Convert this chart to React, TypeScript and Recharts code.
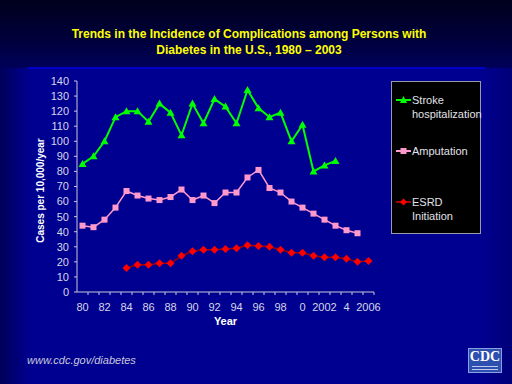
import React from 'react';
import { LineChart, Line, XAxis, YAxis } from 'recharts';

const years = [1980, 1981, 1982, 1983, 1984, 1985, 1986, 1987, 1988, 1989, 1990, 1991, 1992, 1993, 1994, 1995, 1996, 1997, 1998, 1999, 2000, 2001, 2002, 2003, 2004, 2005, 2006];
const yearLabels = ['80', '', '82', '', '84', '', '86', '', '88', '', '90', '', '92', '', '94', '', '96', '', '98', '', '0', '', '2002', '', '4', '', '2006'];

const strokeHosp = [85, 90, 100, 116, 120, 120, 113, 125, 119, 104, 125, 112, 128, 123, 112, 134, 122, 116, 119, 100, 111, 80, 84, 87, null, null, null];
const amputation = [44, 43, 48, 56, 67, 64, 62, 61, 63, 68, 61, 64, 59, 66, 66, 76, 81, 69, 66, 60, 56, 52, 48, 44, 41, 39, null];
const esrd = [null, null, null, null, 16, 18, 18, 19, 19, 24, 27, 28, 28, 28.5, 29, 31, 30.5, 30, 28, 26, 26, 24, 23, 23, 22, 20, 20.5];

const yTicks = [0, 10, 20, 30, 40, 50, 60, 70, 80, 90, 100, 110, 120, 130, 140];

const chartData = years.map((year, i) => ({
  year,
  stroke: strokeHosp[i],
  amputation: amputation[i],
  esrd: esrd[i],
}));

const FONT = '"Liberation Sans", Arial, sans-serif';
const TICK_COLOR = '#d6d6e6';

// marker shapes
const Triangle = (props: any) => {
  const { cx, cy, index } = props;
  if (cx == null || cy == null || props.value == null) return <g key={index} />;
  return <polygon key={index} points={`${cx},${cy - 4} ${cx - 4},${cy + 3} ${cx + 4},${cy + 3}`} fill="#00ff00" />;
};

const Square = (props: any) => {
  const { cx, cy, index } = props;
  if (cx == null || cy == null || props.value == null) return <g key={index} />;
  return <rect key={index} x={cx - 3} y={cy - 3} width={6} height={6} fill="#ff99cc" />;
};

const RedDot = (props: any) => {
  const { cx, cy, index } = props;
  if (cx == null || cy == null || props.value == null) return <g key={index} />;
  return <polygon key={index} points={`${cx},${cy - 4} ${cx + 4},${cy} ${cx},${cy + 4} ${cx - 4},${cy}`} fill="#ff0000" />;
};

const YearTick = (props: any) => {
  const { x, y, payload } = props;
  const idx = years.indexOf(payload.value);
  const label = yearLabels[idx];
  return (
    <g>
      <line x1={x + 5.5} y1={y} x2={x + 5.5} y2={y + 3} stroke="#c8c8d8" strokeWidth={1} />
      {label ? (
        <text x={x} y={y + 19} textAnchor="middle" fill={TICK_COLOR} fontSize={11} fontFamily={FONT}>
          {label}
        </text>
      ) : null}
    </g>
  );
};

// rotated y-axis title, centred a little below the middle of the plot
const YTitle = (props: any) => {
  const vb = props.viewBox || {};
  const cx = vb.x + 3;
  const cy = vb.y + vb.height / 2 + 4;
  return (
    <text
      x={cx}
      y={cy}
      transform={`rotate(-90, ${cx}, ${cy})`}
      textAnchor="middle"
      dominantBaseline="central"
      fill="#ffffff"
      fontSize={10}
      fontWeight="bold"
      fontFamily={FONT}
    >
      Cases per 10,000/year
    </text>
  );
};

const legendItems = [
  { lines: ['Stroke', 'hospitalization'], color: '#00ff00', line: '#00ff00', top: 11, shape: 'tri' },
  { lines: ['Amputation'], color: '#ff99cc', line: '#ff99cc', top: 62, shape: 'sq' },
  { lines: ['ESRD', 'Initiation'], color: '#ff0000', line: '#a00000', top: 113, shape: 'dot' },
];

const App: React.FC = () => {
  return (
    <div
      style={{
        position: 'absolute',
        left: 0,
        top: 0,
        width: 512,
        height: 384,
        overflow: 'hidden',
        background: 'linear-gradient(to bottom, #00001c 0px, #00003c 40px, #000058 67px)',
        fontFamily: FONT,
      }}
    >
      <div
        style={{
          position: 'absolute',
          left: 0,
          top: 68,
          width: 512,
          height: 316,
          background: 'linear-gradient(to right, #00005a 0px, #000090 30px, #000090 480px, #000078 512px)',
        }}
      />
      <div style={{ position: 'absolute', left: 28, top: 67, width: 457, height: 2, background: '#0000c8' }} />

      <div
        style={{
          position: 'absolute',
          left: 0,
          top: 26,
          width: 498,
          textAlign: 'center',
          color: '#ffff00',
          fontWeight: 'bold',
          fontSize: 12,
          lineHeight: '16px',
        }}
      >
        Trends in the Incidence of Complications among Persons with
        <br />
        Diabetes in the U.S., 1980 – 2003
      </div>

      <div style={{ position: 'absolute', left: 0, top: 0 }}>
        <LineChart width={512} height={384} data={chartData} margin={{ top: 81, right: 138, bottom: 58, left: 37 }}>
          <XAxis
            dataKey="year"
            type="number"
            domain={[1979.5, 2006.5]}
            ticks={years}
            interval={0}
            height={34}
            tickSize={0}
            tickMargin={0}
            tickLine={false}
            tick={<YearTick />}
            axisLine={{ stroke: '#c8c8d8' }}
            label={{ value: 'Year', position: 'insideBottom', offset: 1, fill: '#ffffff', fontSize: 11, fontWeight: 'bold', fontFamily: FONT }}
          />
          <YAxis
            type="number"
            domain={[0, 140]}
            ticks={yTicks}
            interval={0}
            width={40}
            tickSize={3}
            tickMargin={5}
            axisLine={{ stroke: '#c8c8d8' }}
            tickLine={{ stroke: '#c8c8d8' }}
            tick={{ fill: TICK_COLOR, fontSize: 11, fontFamily: FONT }}
            label={{ content: <YTitle /> }}
          />
          <Line dataKey="stroke" stroke="#00ff00" strokeWidth={2} dot={<Triangle />} activeDot={false} isAnimationActive={false} connectNulls={false} />
          <Line dataKey="amputation" stroke="#ff99cc" strokeWidth={1.5} dot={<Square />} activeDot={false} isAnimationActive={false} connectNulls={false} />
          <Line dataKey="esrd" stroke="#a00000" strokeWidth={1.5} dot={<RedDot />} activeDot={false} isAnimationActive={false} connectNulls={false} />
        </LineChart>
      </div>

      <div
        style={{
          position: 'absolute',
          left: 391,
          top: 81,
          width: 88,
          height: 151,
          background: '#000000',
          border: '1px solid #9a9aa8',
        }}
      >
        {legendItems.map((item) => (
          <div key={item.lines[0]} style={{ position: 'absolute', left: 0, top: item.top, width: 88 }}>
            <svg width={16} height={14} style={{ position: 'absolute', left: 4, top: 0 }}>
              <line x1={0} y1={7} x2={15} y2={7} stroke={item.line} strokeWidth={2} />
              {item.shape === 'tri' && <polygon points="7.5,3 4,10 11,10" fill={item.color} />}
              {item.shape === 'sq' && <rect x={4.5} y={4} width={6} height={6} fill={item.color} />}
              {item.shape === 'dot' && <polygon points="7.5,3.5 11,7 7.5,10.5 4,7" fill={item.color} />}
            </svg>
            <div style={{ position: 'absolute', left: 20, top: 0, color: '#e2e2ea', fontSize: 11, lineHeight: '14px', whiteSpace: 'nowrap' }}>
              {item.lines.map((l) => (
                <div key={l}>{l}</div>
              ))}
            </div>
          </div>
        ))}
      </div>

      <div style={{ position: 'absolute', left: 27, top: 354, color: '#c8c8d8', fontSize: 11, fontStyle: 'italic' }}>
        www.cdc.gov/diabetes
      </div>

      <div
        style={{
          position: 'absolute',
          left: 468,
          top: 348,
          width: 34,
          height: 25,
          background: '#2d4fb0',
          border: '1px solid #8aa0e0',
          boxSizing: 'border-box',
          textAlign: 'center',
        }}
      >
        <div style={{ color: '#ffffff', fontFamily: '"Liberation Serif", serif', fontWeight: 'bold', fontSize: 14, lineHeight: '15px' }}>CDC</div>
        <div style={{ height: 1, background: '#c0c8f0', margin: '2px 3px 0' }} />
        <div style={{ height: 1, background: '#c0c8f0', margin: '2px 3px 0' }} />
      </div>
    </div>
  );
};

export default App;
